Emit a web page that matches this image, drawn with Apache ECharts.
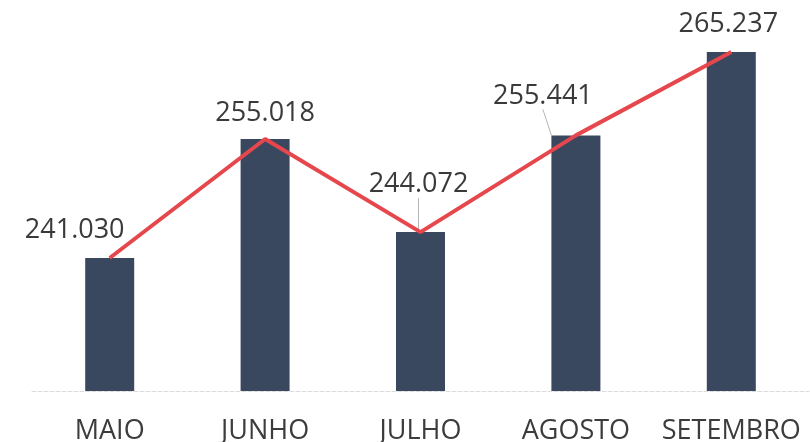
<!DOCTYPE html>
<html>
<head>
<meta charset="utf-8">
<script src="https://cdn.jsdelivr.net/npm/echarts@6/dist/echarts.min.js"></script>
<style>
  html, body { margin: 0; padding: 0; background: #fff; }
  #chart { width: 810px; height: 442px; }
</style>
</head>
<body>
<div id="chart"></div>
<script>
// meses e totais
var months = ['MAIO', 'JUNHO', 'JULHO', 'AGOSTO', 'SETEMBRO'];
var totals = [241030, 255018, 244072, 255441, 265237];

// deslocamento dos rótulos (px)
var labelShift = [[-35, -9], [0, -7], [-2, -29], [-33, -21], [-3, -9]];

function fmt(v) {
  // separador de milhar com ponto
  return String(v).replace(/\B(?=(\d{3})+(?!\d))/g, '.');
}

var myChart = echarts.init(document.getElementById('chart'));

var option = {
  animation: false,
  textStyle: { fontFamily: 'Open Sans' },
  grid: { left: 32, right: 1, top: 20, bottom: 51, outerBoundsMode: 'none', containLabel: false },
  xAxis: {
    type: 'category',
    data: months,
    axisTick: { show: false },
    axisLine: { lineStyle: { color: '#dcdcdc', width: 1, type: 'dashed' } },
    axisLabel: { color: '#3c3c3c', fontSize: 27, margin: 27, interval: 0 }
  },
  yAxis: {
    type: 'value',
    min: 225400,
    max: 269000,
    show: false,
    splitLine: { show: false }
  },
  series: [
    {
      type: 'bar',
      data: totals,
      barWidth: 49,
      itemStyle: { color: '#39485f' },
      label: {
        show: true,
        position: 'top',
        color: '#3a3a3a',
        fontSize: 27,
        formatter: function (p) { return fmt(p.value); }
      },
      labelLine: { show: false, lineStyle: { color: '#b5b5b5', width: 1 } },
      labelLayout: function (p) {
        var s = labelShift[p.dataIndex];
        return { dx: s[0], dy: s[1] };
      }
    },
    {
      type: 'line',
      data: totals,
      symbol: 'none',
      lineStyle: { color: '#e5474c', width: 4 },
      z: 5
    }
  ]
};

// linhas guia só para JULHO e AGOSTO
option.series[0].data = totals.map(function (v, i) {
  return (i === 2 || i === 3) ? { value: v, labelLine: { show: true } } : v;
});

myChart.setOption(option);
</script>
</body>
</html>
